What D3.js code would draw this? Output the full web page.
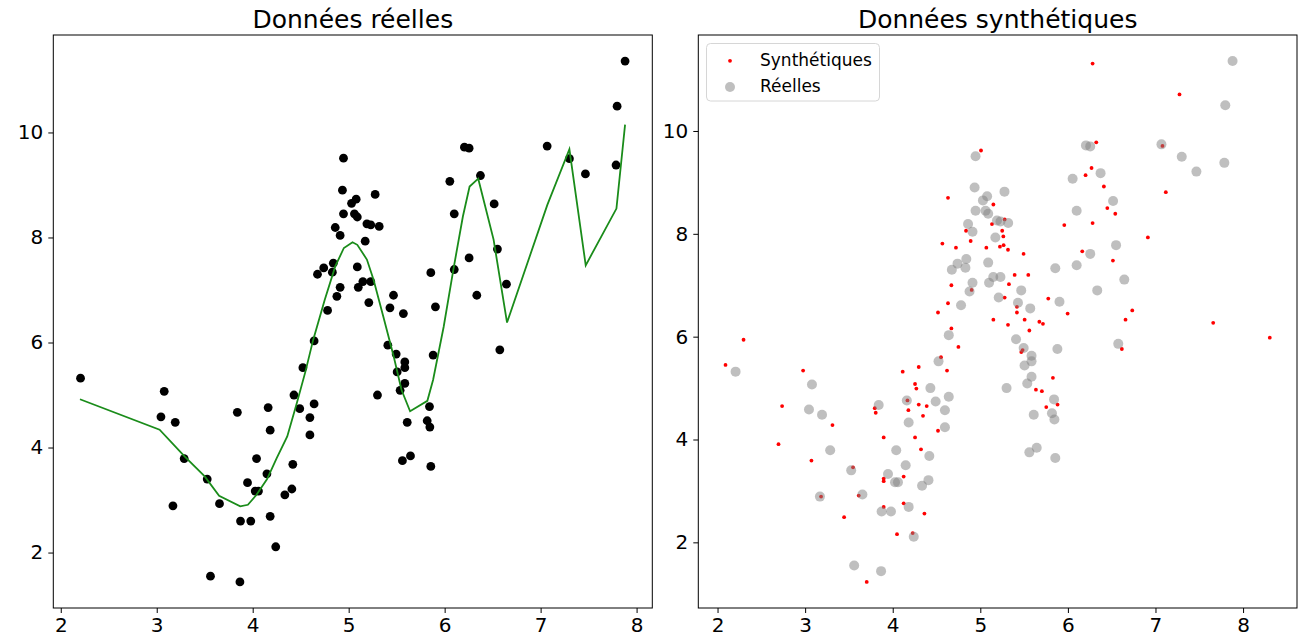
<!DOCTYPE html>
<html>
<head>
<meta charset="utf-8">
<script src="https://cdn.jsdelivr.net/npm/d3@7"></script>
<style>
  body { margin: 0; background: #fff; }
  svg text { font-family: "DejaVu Sans", sans-serif; fill: #000; }
</style>
</head>
<body>
<svg id="chart" width="1301" height="635"></svg>
<script>
// real observations
const realX = [2.206, 3.078, 3.044, 3.193, 3.286, 3.169, 3.526, 3.654, 3.56, 3.867, 3.84, 3.873, 3.98, 3.946, 4.026, 4.06,
  4.04, 4.148, 4.161, 4.182, 4.182, 4.24, 4.335, 4.408, 4.418, 4.43, 4.523, 4.49, 4.596, 4.596, 4.64, 4.64,
  4.946, 4.935, 4.946, 4.86, 4.911, 5.03, 5.078, 5.06, 5.09, 4.84, 4.74, 4.675, 4.83, 5.09, 4.911, 4.877,
  4.78, 5.10, 5.276, 5.19, 5.23, 5.318, 5.172, 5.148, 5.23, 5.21, 5.43, 5.467, 5.57, 5.856, 5.904, 6.054,
  6.10, 6.10, 6.206, 6.255, 6.255, 6.335, 6.373, 6.516, 6.55, 6.644, 7.068, 7.30, 7.467, 7.786, 7.797, 7.88,
  5.408, 5.495, 5.585, 5.585, 5.505, 5.585, 5.536, 5.30, 5.88, 6.575, 5.842, 5.61, 5.818, 5.846, 5.644, 5.56, 5.856];
const realY = [5.32, 5.07, 4.585, 4.48, 3.79, 2.89, 3.40, 2.93, 1.55, 1.44, 4.67, 2.60, 2.60, 3.33, 3.17, 3.17,
  3.79, 3.50, 4.76, 4.33, 2.69, 2.11, 3.10, 3.21, 3.68, 5.00, 5.52, 4.74, 4.57, 4.24, 4.83, 6.03,
  9.51, 8.90, 8.45, 8.19, 8.04, 8.65, 8.73, 8.45, 8.39, 7.51, 7.42, 7.30, 7.34, 7.44, 7.05, 6.88,
  6.61, 7.05, 8.82, 8.26, 8.24, 8.21, 7.93, 7.16, 7.16, 6.76, 6.66, 6.90, 6.55, 7.33, 6.68, 9.07,
  8.45, 7.39, 9.72, 9.70, 7.61, 6.90, 9.18, 8.64, 7.78, 7.11, 9.74, 9.50, 9.21, 9.38, 10.50, 11.36,
  5.95, 5.78, 5.63, 5.52, 5.44, 5.22, 5.09, 5.00, 5.76, 5.86, 4.78, 4.48, 4.51, 4.39, 3.84, 3.75, 3.64];

// fitted curve
const fitX = [2.20, 3.03, 3.29, 3.50, 3.65, 3.87, 3.95, 4.04, 4.15, 4.25, 4.36, 4.46, 4.55, 4.63, 4.75, 4.86,
  4.95, 5.04, 5.09, 5.19, 5.26, 5.36, 5.47, 5.55, 5.64, 5.82, 5.88, 5.99, 6.09, 6.19, 6.26, 6.35,
  6.51, 6.65, 7.07, 7.30, 7.47, 7.79, 7.88];
const fitY = [4.92, 4.34, 3.83, 3.45, 3.08, 2.88, 2.91, 3.10, 3.40, 3.80, 4.21, 4.85, 5.45, 6.05, 6.81, 7.45,
  7.80, 7.91, 7.86, 7.58, 7.19, 6.50, 5.73, 5.10, 4.69, 4.89, 5.29, 6.30, 7.38, 8.40, 8.97, 9.12,
  7.96, 6.38, 8.62, 9.68, 7.47, 8.55, 10.15];

// synthetic samples
const synthX = [2.297, 2.091, 2.977, 2.737, 2.696, 3.312, 3.072, 3.182, 3.547, 3.612, 3.445, 3.703, 3.795, 3.806, 3.897, 3.897,
  3.897, 3.897, 4.049, 4.114, 4.168, 4.179, 4.125, 4.125, 4.228, 4.255, 4.27, 4.255, 5.008, 4.631, 5.149, 5.133,
  5.278, 4.837, 5.25, 5.263, 4.89, 4.567, 4.722, 5.069, 5.224, 5.266, 5.316, 5.494, 5.959, 6.202, 6.27, 6.324,
  6.282, 6.164, 5.392, 5.548, 5.327, 4.67, 4.901, 5.278, 5.776, 4.631, 4.517, 5.418, 5.418, 5.997, 5.149, 5.506,
  5.674, 5.715, 5.316, 5.56, 4.67, 4.75, 5.483, 5.468, 4.551, 4.297, 4.62, 5.829, 4.297, 4.388, 4.346, 4.517,
  4.323, 4.362, 5.635, 5.703, 5.753, 5.882, 6.282, 7.274, 7.08, 6.411, 7.118, 6.45, 6.541, 6.913, 6.514, 6.735,
  6.658, 7.659, 8.305, 6.616];
const synthY = [5.94, 5.45, 5.34, 4.65, 3.91, 4.28, 3.59, 2.89, 3.46, 2.91, 2.49, 1.23, 4.61, 4.52, 4.04, 3.24,
  3.19, 2.69, 2.16, 5.32, 4.76, 4.57, 3.28, 2.76, 2.18, 5.08, 4.99, 4.04, 9.62, 8.70, 8.57, 8.19,
  8.28, 8.06, 8.06, 7.95, 7.86, 7.81, 7.73, 7.73, 7.75, 7.78, 7.69, 7.61, 8.17, 9.14, 9.28, 9.78,
  8.21, 7.66, 7.20, 7.20, 7.02, 7.00, 6.91, 6.76, 6.74, 6.65, 6.47, 6.58, 6.47, 6.45, 6.33, 6.33,
  6.29, 6.25, 6.23, 6.12, 6.16, 5.80, 5.74, 5.70, 5.60, 5.41, 5.34, 5.20, 4.68, 4.65, 4.46, 4.17,
  3.81, 2.56, 4.97, 4.94, 4.63, 4.68, 11.31, 10.71, 9.71, 8.92, 8.81, 8.50, 8.39, 7.93, 7.48, 6.51,
  6.33, 6.27, 5.98, 5.76];

const xTicks = [2, 3, 4, 5, 6, 7, 8];
const yTicks = [2, 4, 6, 8, 10];
const titles = ["Données réelles", "Données synthétiques"];
const legendLabels = ["Synthétiques", "Réelles"];

const svg = d3.select("#chart");
const plotTop = 35, plotBottom = 608;

// matplotlib style 5% margin
function padded(vals) {
  const [a, b] = d3.extent(vals);
  const m = (b - a) * 0.05;
  return [a - m, b + m];
}

function makePanel(left, right, xs, ys, title) {
  const x = d3.scaleLinear().domain(padded(xs)).range([left, right]);
  const y = d3.scaleLinear().domain(padded(ys)).range([plotBottom, plotTop]);
  const g = svg.append("g");

  g.append("text")
    .attr("x", (left + right) / 2)
    .attr("y", 28)
    .attr("text-anchor", "middle")
    .style("font-size", "25px")
    .text(title);

  const xa = g.append("g")
    .attr("transform", "translate(0," + plotBottom + ")")
    .call(d3.axisBottom(x).tickValues(xTicks).tickFormat(d3.format("d")).tickSize(5).tickPadding(5));
  const ya = g.append("g")
    .attr("transform", "translate(" + left + ",0)")
    .call(d3.axisLeft(y).tickValues(yTicks).tickFormat(d3.format("d")).tickSize(5).tickPadding(5));
  [xa, ya].forEach(a => {
    a.select(".domain").remove();
    a.selectAll("line").attr("stroke", "#000");
    a.selectAll("text").style("font-size", "20px").attr("fill", "#000");
  });

  const plot = g.append("g");
  g.append("rect")
    .attr("x", left).attr("y", plotTop)
    .attr("width", right - left).attr("height", plotBottom - plotTop)
    .attr("fill", "none").attr("stroke", "#000").attr("stroke-width", 1);
  return {x, y, plot, g};
}

// left panel
const p1 = makePanel(53.3, 652.3, realX, realY, titles[0]);
p1.plot.selectAll("circle")
  .data(realX)
  .enter()
  .append("circle")
  .attr("cx", d => p1.x(d))
  .attr("cy", (d, i) => p1.y(realY[i]))
  .attr("r", 4.4)
  .attr("fill", "#000");

p1.plot.append("path")
  .datum(fitX.map((d, i) => [d, fitY[i]]))
  .attr("fill", "none")
  .attr("stroke", "#1a8c1a")
  .attr("stroke-width", 1.8)
  .attr("d", d3.line().x(d => p1.x(d[0])).y(d => p1.y(d[1])));

// right panel
const p2 = makePanel(698.3, 1297, synthX.concat(realX), synthY.concat(realY), titles[1]);
p2.plot.selectAll(".syn")
  .data(synthX)
  .enter()
  .append("circle")
  .attr("class", "syn")
  .attr("cx", d => p2.x(d))
  .attr("cy", (d, i) => p2.y(synthY[i]))
  .attr("r", 1.9)
  .attr("fill", "#ff0000");

p2.plot.selectAll(".real")
  .data(realX)
  .enter()
  .append("circle")
  .attr("class", "real")
  .attr("cx", d => p2.x(d))
  .attr("cy", (d, i) => p2.y(realY[i]))
  .attr("r", 5)
  .attr("fill", "#808080")
  .attr("fill-opacity", 0.5);

// legend
const lg = p2.g.append("g").attr("transform", "translate(706.5,43.5)");
lg.append("rect")
  .attr("width", 173).attr("height", 57.5).attr("rx", 4)
  .attr("fill", "#fff").attr("fill-opacity", 0.8)
  .attr("stroke", "#d6d6d6");
lg.append("circle").attr("cx", 23.5).attr("cy", 17.3).attr("r", 1.9).attr("fill", "#ff0000");
lg.append("circle").attr("cx", 23.5).attr("cy", 43.5).attr("r", 5).attr("fill", "#808080").attr("fill-opacity", 0.5);
lg.selectAll("text")
  .data(legendLabels)
  .enter()
  .append("text")
  .attr("x", 53.5)
  .attr("y", (d, i) => 22.5 + i * 26)
  .style("font-size", "17px")
  .text(d => d);
</script>
</body>
</html>
